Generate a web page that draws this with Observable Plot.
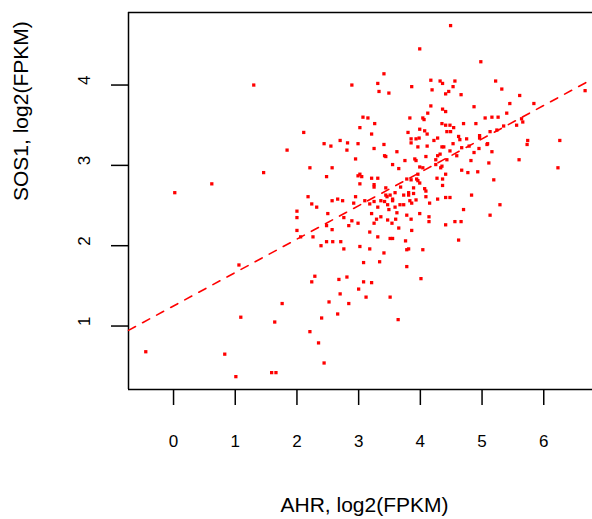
<!DOCTYPE html>
<html>
<head>
<meta charset="utf-8">
<script src="https://cdn.jsdelivr.net/npm/d3@7"></script>
<script src="https://cdn.jsdelivr.net/npm/@observablehq/plot@0.6"></script>
<style>
  html, body { margin: 0; padding: 0; background: #ffffff; }
  #chart { width: 592px; height: 519px; overflow: hidden; }
</style>
</head>
<body>
<div id="chart"></div>
<script>
// AHR expression, log2(FPKM)
const ahr = [
  1.30,2.89,3.02,2.11,2.44,2.55,2.70,2.82,2.99,2.81,1.84,2.95,2.21,2.57,2.48,2.99,3.02,3.02,1.46,0.62,
  0.02,2.18,2.95,3.99,3.41,3.31,3.33,3.49,3.86,3.07,3.15,3.26,3.21,3.80,3.83,4.49,4.98,4.17,4.32,4.36,
  4.56,4.53,4.19,4.46,4.41,4.66,5.22,5.32,5.61,6.67,4.17,4.12,4.36,4.41,4.87,5.45,5.84,5.40,4.04,4.06,
  5.05,5.16,5.26,5.64,5.66,4.35,4.41,4.48,4.70,4.90,5.35,5.56,3.99,4.54,4.07,4.43,4.49,5.13,5.24,4.11,
  3.85,3.93,3.98,4.28,4.62,4.64,4.75,4.96,4.96,4.22,3.41,3.85,4.11,4.35,4.38,4.53,4.79,4.67,5.08,5.09,
  5.74,5.73,6.26,3.25,3.96,4.95,4.48,3.62,4.87,5.16,3.42,3.44,4.32,4.28,4.59,4.09,3.91,3.93,3.75,4.25,
  4.43,4.82,5.11,5.60,3.55,4.25,4.35,3.99,4.04,4.33,3.65,4.67,4.77,4.93,6.23,3.96,4.41,3.05,3.21,3.31,
  3.78,3.85,3.94,3.96,3.99,4.27,4.36,5.19,3.25,3.25,3.44,3.68,3.89,4.07,4.09,4.36,3.59,3.51,3.44,3.46,
  3.73,3.81,3.81,3.89,4.09,4.28,4.41,4.48,4.83,3.55,2.57,2.66,2.74,2.92,3.10,3.18,3.25,3.36,3.42,3.47,
  3.55,3.67,3.73,3.83,3.86,3.93,4.15,5.29,3.31,3.49,3.59,3.62,3.78,2.24,2.32,2.00,2.00,2.50,2.76,2.89,
  2.99,3.21,3.29,3.36,3.47,3.60,3.54,3.25,3.85,4.70,3.99,4.14,5.13,4.14,4.56,4.66,4.41,2.00,2.26,2.06,
  2.57,2.48,2.84,3.65,3.86,3.18,3.31,3.51,3.55,3.76,2.39,2.48,2.58,2.71,2.76,3.02,3.18,3.41,3.78,3.81,
  4.04,4.62,3.08,3.34,3.78,4.01,3.08,3.21,3.00,3.12,3.51,3.64,1.06,2.29,2.24,2.68,2.81,2.70,2.52,2.84,
  1.76,2.66,2.40,1.09,1.64,2.21,2.35,2.44,-0.45,0.83,1.01,1.59,1.66
];
// SOS1 expression, log2(FPKM)
const sos1 = [
  4.00,4.00,3.47,3.41,3.27,3.24,3.31,3.28,3.27,3.19,3.19,3.08,2.97,2.97,2.86,2.87,2.89,2.77,2.91,2.77,
  2.66,2.61,2.61,4.45,4.14,4.02,3.92,3.90,3.98,3.60,3.59,3.52,3.39,3.41,3.59,4.74,4.29,4.06,4.05,4.02,
  4.05,3.98,3.94,3.92,3.89,3.88,4.05,3.95,3.87,3.93,3.74,3.65,3.70,3.67,3.73,3.77,3.77,3.65,3.59,3.57,
  3.59,3.60,3.60,3.58,3.54,3.52,3.50,3.50,3.52,3.52,3.49,3.50,3.45,3.47,3.43,3.42,3.42,3.42,3.44,3.39,
  3.33,3.33,3.34,3.34,3.36,3.32,3.33,3.37,3.34,3.31,3.26,3.28,3.24,3.23,3.23,3.27,3.24,3.22,3.26,3.27,
  3.31,3.26,3.31,3.21,3.23,3.21,3.18,3.17,3.16,3.17,3.12,3.11,3.14,3.12,3.12,3.11,3.08,3.06,3.06,3.07,
  3.07,3.06,3.03,3.07,3.01,3.01,2.99,2.98,2.97,2.97,2.96,2.94,2.91,2.92,2.97,2.89,2.89,2.86,2.84,2.84,
  2.83,2.82,2.83,2.81,2.78,2.84,2.83,2.82,2.76,2.73,2.72,2.73,2.72,2.71,2.68,2.75,2.66,2.63,2.63,2.61,
  2.63,2.66,2.63,2.65,2.61,2.58,2.60,2.60,2.63,2.58,2.56,2.58,2.56,2.53,2.56,2.52,2.55,2.56,2.55,2.51,
  2.56,2.51,2.51,2.56,2.53,2.57,2.53,2.51,2.48,2.45,2.48,2.41,2.38,2.52,2.48,2.43,2.35,2.40,2.35,2.31,
  2.28,2.40,2.33,2.36,2.32,2.33,2.28,2.28,2.33,2.45,2.40,2.36,2.38,2.30,2.30,2.30,2.26,2.19,2.11,2.11,
  2.20,2.25,2.25,2.22,2.19,2.17,2.11,2.09,2.09,2.06,2.00,2.05,2.05,2.05,1.96,1.99,1.96,1.91,1.95,1.96,
  1.95,2.07,1.79,1.80,1.74,1.59,1.55,1.54,1.46,1.36,1.36,1.08,1.76,1.62,1.55,1.58,1.61,1.40,1.30,1.28,
  1.28,1.15,1.10,1.11,1.05,0.93,0.79,0.54,0.68,0.65,0.37,0.42,0.42
];
const xTicks = [0, 1, 2, 3, 4, 5, 6];
const yTicks = [1, 2, 3, 4];
const xTitle = "AHR, log2(FPKM)";
const yTitle = "SOS1, log2(FPKM)";
// linear fit shown as dashed line
const fitIntercept = 1.25;
const fitSlope = 0.416;
const xDomain = [-0.73, 6.79];
const yDomain = [0.21, 4.903];

const fitData = xDomain.map(x => ({x, y: fitIntercept + fitSlope * x}));

const chart = Plot.plot({
  width: 592,
  height: 519,
  marginLeft: 128,
  marginRight: 0,
  marginTop: 12,
  marginBottom: 130,
  x: {domain: xDomain, label: null},
  y: {domain: yDomain, label: null},
  style: {fontFamily: "'Liberation Sans', Arial, Helvetica, sans-serif", background: "#ffffff", color: "#000000", overflow: "hidden"},
  marks: [
    Plot.axisX(xTicks, {tickSize: 16, fill: "none", strokeWidth: 1.5, label: null}),
    Plot.axisY(yTicks, {tickSize: 17, fill: "none", strokeWidth: 1.5, label: null}),
    Plot.text(xTicks, {x: d => d, text: d => String(d), frameAnchor: "bottom", dy: 57, fontSize: 17, fill: "#000"}),
    Plot.text(yTicks, {y: d => d, text: d => String(d), frameAnchor: "left", dx: -44, rotate: -90, fontSize: 17, fill: "#000"}),
    Plot.text([xTitle], {text: d => d, frameAnchor: "bottom", dx: 4, dy: 122, fontSize: 21, fill: "#000"}),
    Plot.text([yTitle], {text: d => d, frameAnchor: "left", dx: -107, rotate: -90, fontSize: 21, fill: "#000"}),
    Plot.ruleX([xDomain[0]], {stroke: "#000", strokeWidth: 1.5}),
    Plot.ruleY(yDomain, {stroke: "#000", strokeWidth: 1.5}),
    Plot.line(fitData, {x: "x", y: "y", stroke: "#ff0000", strokeWidth: 1.6, strokeDasharray: "8,8"}),
    Plot.dot(ahr, {x: ahr, y: sos1, symbol: "square", r: 1.85, fill: "#ff0000", stroke: "none"})
  ]
});
document.getElementById("chart").appendChild(chart);
</script>
</body>
</html>
